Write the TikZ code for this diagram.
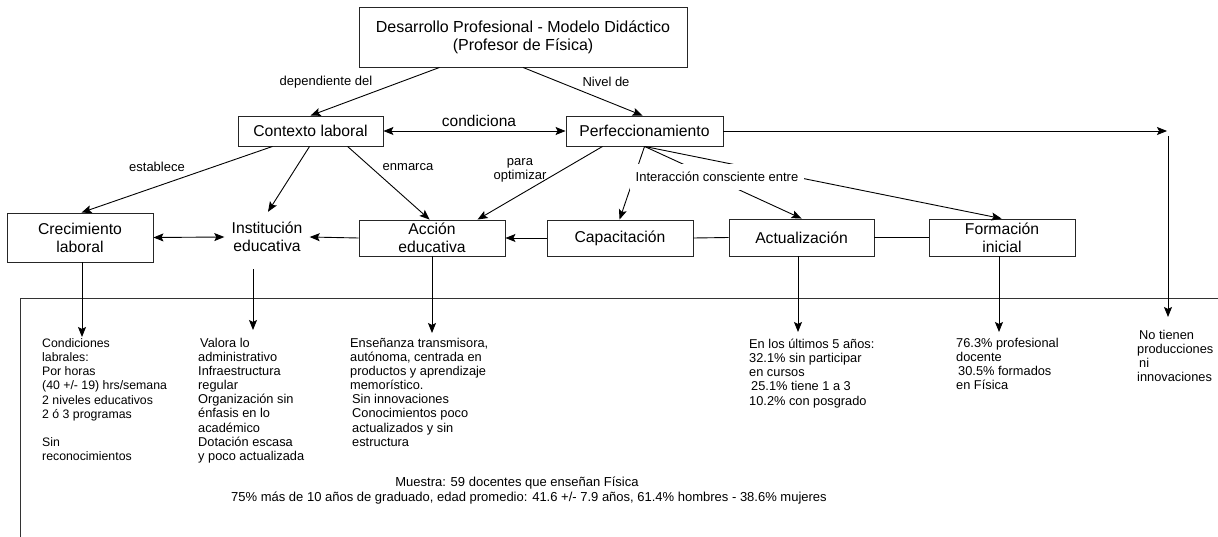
\documentclass[tikz,border=0pt]{standalone}
\usepackage{fontspec}
\setmainfont{Liberation Sans}
\usetikzlibrary{arrows.meta}
\tikzset{
  box/.style={draw=black!85, line width=0.9pt, align=center, inner sep=0pt},
  bigfont/.style={font=\fontsize{15.7}{18}\selectfont},
  lbl/.style={font=\fontsize{13}{14}\selectfont, align=center, inner sep=1pt},
  small/.style={font=\fontsize{12.8}{14.1}\selectfont, align=left, anchor=north west, inner sep=0pt},
  conn/.style={line width=0.9pt, draw=black},
  arr/.style={conn, -{Stealth[length=10pt,width=8pt,inset=2pt]}},
  darr/.style={conn, {Stealth[length=10pt,width=8pt,inset=2pt]}-{Stealth[length=10pt,width=8pt,inset=2pt]}},
}
\begin{document}
\begin{tikzpicture}[x=1pt,y=-1pt]
\useasboundingbox (0,0) rectangle (1218,537);

% frame
\draw[line width=0.9pt, black!80] (20,537) -- (20,298) -- (1218,298);

% main boxes
\node[box, minimum width=328, minimum height=60, font=\fontsize{16}{18}\selectfont] (top) at (523,37)
  {Desarrollo Profesional - Modelo Didáctico\\(Profesor de Física)};
\node[box, bigfont, minimum width=145, minimum height=30] (ctx) at (310.5,131) {Contexto laboral};
\node[box, bigfont, minimum width=157, minimum height=30] (perf) at (644.5,131) {Perfeccionamiento};
\node[box, bigfont, minimum width=146, minimum height=49] (crec) at (80,237.5) {Crecimiento\\laboral};
\node[bigfont, align=center, minimum width=85, minimum height=50, inner sep=0pt] (inst) at (267,237) {Institución\\educativa};
\node[box, bigfont, minimum width=146, minimum height=36] (acc) at (432,238) {Acción\\educativa};
\node[box, bigfont, minimum width=146, minimum height=36] (cap) at (620,238) {Capacitación};
\node[box, bigfont, minimum width=145, minimum height=37] (act) at (801.5,237.5) {Actualización};
\node[box, bigfont, minimum width=146, minimum height=37] (form) at (1002,237.5) {Formación\\inicial};

% connectors top
\draw[arr] ([xshift=81]top.south west) -- ([xshift=73]ctx.north west);
\draw[arr] (top.south) -- ([xshift=77]perf.north west);
\draw[darr] (ctx.east) -- (perf.west);
\node[lbl] (ldep) at (326,82) {dependiente del};
\node[lbl] (lniv) at (606,82) {Nivel de};
\node[font=\fontsize{15.5}{17}\selectfont, inner sep=1pt] (lcond) at (479,121) {condiciona};

% from contexto
\draw[arr] ([xshift=35]ctx.south west) -- ([xshift=75]crec.north west);
\draw[arr] ([xshift=72]ctx.south west) -- ([xshift=1]inst.north);
\draw[arr] ([xshift=110]ctx.south west) -- ([xshift=71]acc.north west);
\node[lbl] (lest) at (157,167) {establece};
\node[lbl] (lenm) at (408,167) {enmarca};

% from perfeccionamiento
\draw[arr] ([xshift=37]perf.south west) -- ([xshift=119]acc.north west);
\node[lbl, font=\fontsize{13}{14}\selectfont] (lpara) at (520,170) {para\\optimizar};
\draw[arr] ([xshift=79]perf.south west) -- ([xshift=73]cap.north west);
\draw[arr] ([xshift=79]perf.south west) -- ([xshift=73]act.north west);
\draw[arr] ([xshift=79]perf.south west) -- ([xshift=73]form.north west);
\node[lbl, fill=white, inner xsep=6pt, minimum height=26] (linter) at (717,177) {Interacción consciente entre};

% row connections
\draw[darr] (crec.east) -- (inst.west);
\draw[arr] (acc.west) -- (inst.east);
\draw[arr] (cap.west) -- (acc.east);
\draw[conn] (cap.east) -- (act.west);
\draw[conn] (act.east) -- (form.west);

% right branch
\coordinate (rtip) at (1167,131);
\coordinate (rtop) at (1168,136);
\coordinate (rend) at (1168,317);
\draw[arr] (perf.east) -- (rtip);
\draw[arr] (rtop) -- (rend);

% down arrows
\coordinate (crecEnd) at (82,337);
\coordinate (instEnd) at (253,330);
\coordinate (accEnd) at (432,333);
\coordinate (actEnd) at (798,332);
\coordinate (formEnd) at (999,332);
\draw[arr] ([xshift=2]crec.south) -- (crecEnd);
\draw[arr] ([xshift=-14,yshift=-7]inst.south) -- (instEnd);
\draw[arr] (acc.south) -- (accEnd);
\draw[arr] ([xshift=-3.5]act.south) -- (actEnd);
\draw[arr] ([xshift=-3]form.south) -- (formEnd);

% bottom texts
\node[small, font=\fontsize{12.3}{14.1}\selectfont] (tcrec) at (42,338.5) {Condiciones\\labrales:\\Por horas\\(40 +/- 19) hrs/semana\\2 niveles educativos\\2 ó 3 programas\\[14.1pt]Sin\\reconocimientos};
\node[small] (tinst) at (198,338) {\hspace*{2pt}Valora lo\\administrativo\\Infraestructura\\regular\\Organización sin\\énfasis en lo\\académico\\Dotación escasa\\y poco actualizada};
\node[small] (tacc) at (350,338) {Enseñanza transmisora,\\autónoma, centrada en\\productos y aprendizaje\\memorístico.\\\hspace*{2pt}Sin innovaciones\\\hspace*{2pt}Conocimientos poco\\\hspace*{2pt}actualizados y sin\\\hspace*{2pt}estructura};
\node[small] (tact) at (749,339) {En los últimos 5 años:\\32.1\% sin participar\\en cursos\\\hspace*{2pt}25.1\% tiene 1 a 3\\10.2\% con posgrado};
\node[small] (tform) at (956,338) {76.3\% profesional\\docente\\\hspace*{2pt}30.5\% formados\\en Física};
\node[small] (tno) at (1137,330) {\hspace*{2pt}No tienen\\producciones\\\hspace*{2pt}ni\\innovaciones};

\node[font=\fontsize{13}{14.1}\selectfont, inner sep=0pt] (mu1) at (517,483) {Muestra: 59 docentes que enseñan Física};
\node[font=\fontsize{13}{14.1}\selectfont, inner sep=0pt] (mu2) at (529,498) {75\% más de 10 años de graduado, edad promedio: 41.6 +/- 7.9 años, 61.4\% hombres - 38.6\% mujeres};
\end{tikzpicture}
\end{document}
